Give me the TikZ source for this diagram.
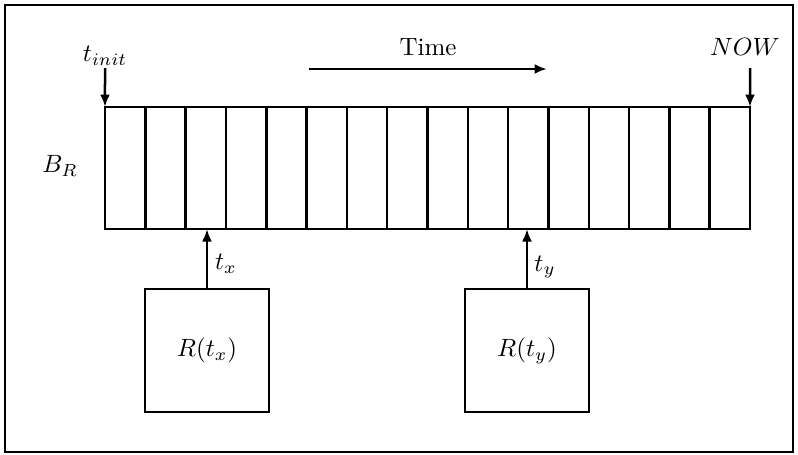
\documentclass[tikz,border=0pt]{standalone}
\usetikzlibrary{arrows.meta}
\begin{document}
\begin{tikzpicture}[x=0.4pt,y=-0.4pt,line width=1pt,
  arr/.style={-{Latex[length=5pt,width=4pt]}},
  cellstrip/.style={draw,rectangle,inner sep=0pt,outer sep=0pt,minimum width=258pt,minimum height=48.8pt},
  relbox/.style={draw,rectangle,inner sep=0pt,outer sep=0pt,minimum width=49.6pt,minimum height=49.2pt},
  lbl/.style={inner sep=1pt}]
\useasboundingbox (0,0) rectangle (798,454);
\draw (5,5) rectangle (793,452);
\node[cellstrip] (strip) at (427.5,168) {};
\foreach \i in {1,...,15}
  \draw (105+\i*40.3125,107) -- (105+\i*40.3125,229);
\node[lbl] (br) at (60,166) {$B_R$};
% t_init and NOW
\coordinate (ti) at (105,68);
\coordinate (tn) at (750,68);
\node[lbl] (tinit) at (105,56) {$t_{init}$};
\node[lbl] (now) at (745,47) {$NOW$};
\draw[arr] (ti) -- (strip.north west);
\draw[arr] (tn) -- (strip.north east);
% Time arrow
\coordinate (ts) at (309,69);
\coordinate (te) at (547,69);
\draw[arr] (ts) -- (te);
\node[lbl] (time) at (428,47) {Time};
% boxes
\node[relbox] (bx) at (207,350.5) {$R(t_x)$};
\node[relbox] (by) at (527,350.5) {$R(t_y)$};
\draw[arr] (bx.north) -- (bx.north |- strip.south);
\draw[arr] (by.north) -- (by.north |- strip.south);
\node[lbl] (tx) at (226,264) {$t_x$};
\node[lbl] (ty) at (545,267) {$t_y$};
\end{tikzpicture}
\end{document}
